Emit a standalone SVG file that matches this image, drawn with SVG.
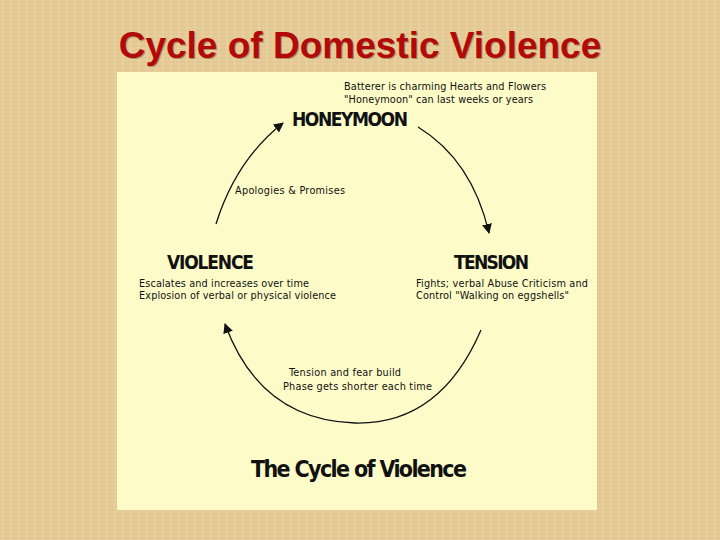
<svg xmlns="http://www.w3.org/2000/svg" width="720" height="540" viewBox="0 0 720 540">
<style>
.t{font-family:"DejaVu Sans Condensed","Liberation Sans Narrow",sans-serif;fill:#111}
.h{font-size:19px;font-weight:bold}
.s{font-size:10.8px}
.c{fill:none;stroke:#111;stroke-width:1.3}
</style>
<defs>
<marker id="a" viewBox="0 0 10 10" refX="9" refY="5" markerWidth="10" markerHeight="10" markerUnits="userSpaceOnUse" orient="auto"><path d="M0,0L10,5L0,10z" fill="#111"/></marker>
<pattern id="p" width="8" height="8" patternUnits="userSpaceOnUse"><rect width="8" height="8" fill="#e6cc98"/><path d="M0,2H8M0,6H8" stroke="#d9bb80" stroke-width="1" opacity="0.6"/><path d="M3,0V8" stroke="#f0dcb0" stroke-width="1" opacity="0.6"/></pattern>
</defs>
<rect width="720" height="540" fill="url(#p)"/>
<text x="361" y="59" text-anchor="middle" font-family="Liberation Sans,Arial,sans-serif" font-size="37" font-weight="bold" fill="#7a5a30" opacity="0.5">Cycle of Domestic Violence</text>
<text x="360" y="58" text-anchor="middle" font-family="Liberation Sans,Arial,sans-serif" font-size="37" font-weight="bold" fill="#b20a0a">Cycle of Domestic Violence</text>
<rect x="117" y="72" width="480" height="438" fill="#fdfcc8"/>
<g id="connectors">
<path class="c" d="M216,224 Q236,160 283,123" marker-end="url(#a)"/>
<path class="c" d="M418,127 Q472,160 489,233" marker-end="url(#a)"/>
<path class="c" d="M481,330 Q440,425 355,423 Q260,420 225,324" marker-end="url(#a)"/>
</g>
<g id="honeymoon">
<text class="t h" x="292" y="126" textLength="116">HONEYMOON</text>
<text class="t s" x="344" y="90" textLength="202">Batterer is charming Hearts and Flowers</text>
<text class="t s" x="344" y="103" textLength="189">"Honeymoon" can last weeks or years</text>
</g>
<g id="apologies"><text class="t s" x="235" y="194" textLength="110">Apologies &amp; Promises</text></g>
<g id="violence">
<text class="t h" x="167" y="269" textLength="87">VIOLENCE</text>
<text class="t s" x="139" y="287" textLength="170">Escalates and increases over time</text>
<text class="t s" x="139" y="299" textLength="197">Explosion of verbal or physical violence</text>
</g>
<g id="tension">
<text class="t h" x="454" y="269" textLength="75">TENSION</text>
<text class="t s" x="416" y="287" textLength="172">Fights; verbal Abuse Criticism and</text>
<text class="t s" x="416" y="299" textLength="153">Control "Walking on eggshells"</text>
</g>
<g id="build">
<text class="t s" x="289" y="376" textLength="112">Tension and fear build</text>
<text class="t s" x="283" y="390" textLength="149">Phase gets shorter each time</text>
</g>
<text class="t" x="251" y="477" font-size="23" font-weight="bold" textLength="216">The Cycle of Violence</text>
</svg>
